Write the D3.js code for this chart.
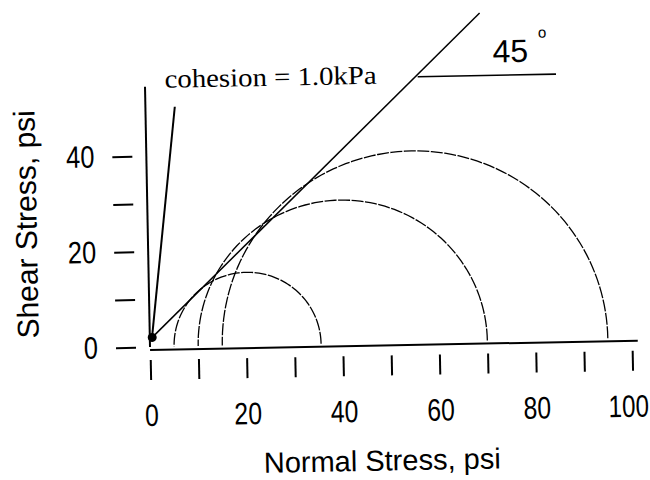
<!DOCTYPE html>
<html>
<head>
<meta charset="utf-8">
<script src="https://cdn.jsdelivr.net/npm/d3@7"></script>
<style>
  body { margin: 0; background: #fff; }
  svg { display: block; }
  .tick line { stroke: #000; stroke-width: 2; }
  .tick text { font-family: "Liberation Sans", Arial, sans-serif; font-size: 31px; fill: #000; }
</style>
</head>
<body>
<svg id="chart" width="650" height="480"></svg>
<script>
// tick values on both axes
const xTicks = [0, 10, 20, 30, 40, 50, 60, 70, 80, 90, 100];
const xLabels = [0, 20, 40, 60, 80, 100];
const yTicks = [0, 10, 20, 30, 40];
const yLabels = [0, 20, 40];

// Mohr circles: minor and major principal stress, psi
const sigma3 = [5, 10, 15];
const sigma1 = [35.5, 70, 95];

// failure envelope and annotation lines (normal, shear)
const envelope = [[0.5, 2], [69.7, 68.6]];
const leader = [[0.4, 1.5], [6.1, 50.2]];
const angleRef = [[56.6, 55.5], [85.3, 55.5]];
const shearAxis = [[0, 0], [0, 54.5]];
const cohesionPoint = [0.5, 2];

const svg = d3.select("#chart");

const x = d3.scaleLinear().domain([0, 100]).range([150, 632]);
const y = d3.scaleLinear().domain([0, 40]).range([347, 156]);

// the scanned figure sits slightly rotated
const g = svg.append("g")
  .attr("transform", `rotate(-1.1, ${x(0)}, ${y(0)})`);

const line = d3.line().x((d) => x(d[0])).y((d) => y(d[1]));

// x axis: baseline plus detached ticks
g.append("line")
  .attr("x1", x(0)).attr("x2", x(101.2))
  .attr("y1", y(0) + 3).attr("y2", y(0) + 3)
  .attr("stroke", "#000").attr("stroke-width", 2);

const xAxis = g.append("g")
  .attr("transform", `translate(0,${y(0) + 13})`)
  .call(d3.axisBottom(x).tickValues(xTicks).tickSize(20).tickPadding(24)
    .tickFormat((d) => (xLabels.includes(d) ? d : "")));
xAxis.select(".domain").remove();
xAxis.selectAll("text")
  .attr("transform", (d) => (d === 100 ? "translate(-5,0) scale(0.78,1)" : "scale(0.8,1)"));

const yAxis = g.append("g")
  .attr("transform", `translate(${x(0) - 14},0)`)
  .call(d3.axisLeft(y).tickValues(yTicks).tickSize(20)
    .tickFormat((d) => (yLabels.includes(d) ? d : "")));
yAxis.select(".domain").remove();
yAxis.selectAll("text")
  .attr("x", 0)
  .attr("transform", "translate(-38,0) scale(0.82,1)");

// vertical shear axis line
g.append("path")
  .attr("d", line(shearAxis))
  .attr("fill", "none").attr("stroke", "#000").attr("stroke-width", 2);

// Mohr circles
const circles = sigma3.map((s3, i) => {
  const c = (s3 + sigma1[i]) / 2;
  const r = (sigma1[i] - s3) / 2;
  return d3.range(0, 181, 2).map((a) => {
    const t = (a * Math.PI) / 180;
    return [c + r * Math.cos(t), r * Math.sin(t)];
  });
});

g.selectAll(".mohr")
  .data(circles)
  .enter()
  .append("path")
  .attr("class", "mohr")
  .attr("d", line)
  .attr("fill", "none")
  .attr("stroke", "#000")
  .attr("stroke-width", 1.3)
  .attr("stroke-dasharray", "12 1.5");

// failure envelope, leader and 45 degree reference
g.append("path").attr("d", line(envelope))
  .attr("fill", "none").attr("stroke", "#000").attr("stroke-width", 1.5);
g.append("path").attr("d", line(leader))
  .attr("fill", "none").attr("stroke", "#000").attr("stroke-width", 2);
g.append("path").attr("d", line(angleRef))
  .attr("fill", "none").attr("stroke", "#000").attr("stroke-width", 1.6);

g.append("circle")
  .attr("cx", x(cohesionPoint[0])).attr("cy", y(cohesionPoint[1]))
  .attr("r", 4.5).attr("fill", "#000");

// annotations
g.append("text")
  .attr("x", x(4.1)).attr("y", y(54.2))
  .attr("font-family", "'Liberation Serif', 'Times New Roman', serif")
  .attr("font-size", 26)
  .attr("textLength", 212).attr("lengthAdjust", "spacingAndGlyphs")
  .text("cohesion = 1.0kPa");

g.append("text")
  .attr("x", x(75.9)).attr("y", y(58.2))
  .attr("text-anchor", "middle")
  .attr("font-family", "'Liberation Sans', Arial, sans-serif")
  .attr("font-size", 32)
  .text("45");
g.append("text")
  .attr("x", x(82.6)).attr("y", y(63.2))
  .attr("text-anchor", "middle")
  .attr("font-family", "'Liberation Sans', Arial, sans-serif")
  .attr("font-size", 15)
  .text("o");

// axis titles
g.append("text")
  .attr("x", 380).attr("y", 475)
  .attr("text-anchor", "middle")
  .attr("font-family", "'Liberation Sans', Arial, sans-serif")
  .attr("font-size", 29)
  .text("Normal Stress, psi");

g.append("text")
  .attr("transform", "translate(39,222) rotate(-90)")
  .attr("text-anchor", "middle")
  .attr("font-family", "'Liberation Sans', Arial, sans-serif")
  .attr("font-size", 30)
  .text("Shear Stress, psi");
</script>
</body>
</html>
